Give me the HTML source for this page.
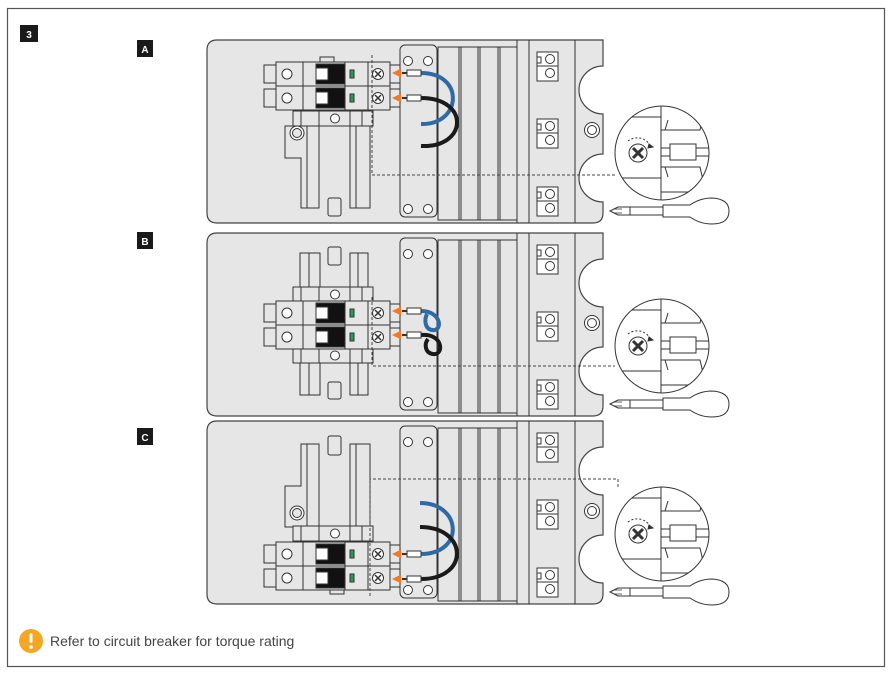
<!DOCTYPE html>
<html><head><meta charset="utf-8"><style>
html,body{margin:0;padding:0;background:#fff;}
body{width:890px;height:675px;overflow:hidden;font-family:"Liberation Sans",sans-serif;}
</style></head><body>
<svg width="890" height="675" viewBox="0 0 890 675" xmlns="http://www.w3.org/2000/svg" font-family="Liberation Sans, sans-serif">
<defs>
<clipPath id="mc"><circle cx="662" cy="113" r="47"/></clipPath>
<g id="common" stroke="#333" stroke-width="1" fill="none">
  <path d="M217,0 H603 V26 A24,24 0 0 0 603,74 V114 A24,24 0 0 0 603,162 V173 Q603,183 593,183 H217 Q207,183 207,173 V10 Q207,0 217,0 Z" fill="#e6e6e6" stroke="#444" stroke-width="1.2"/>
  <line x1="517" y1="0" x2="517" y2="183"/><line x1="529" y1="0" x2="529" y2="183"/><line x1="575" y1="0" x2="575" y2="183"/>
  <rect x="438" y="7" width="79" height="173"/>
  <line x1="459" y1="7" x2="459" y2="180"/><line x1="461" y1="7" x2="461" y2="180"/>
  <line x1="478" y1="7" x2="478" y2="180"/><line x1="480" y1="7" x2="480" y2="180"/>
  <line x1="498" y1="7" x2="498" y2="180"/><line x1="500" y1="7" x2="500" y2="180"/>
  <rect x="400" y="5" width="37" height="172" rx="5" fill="#e6e6e6"/>
  <circle cx="408" cy="21" r="4.5" fill="#fff"/><circle cx="428" cy="21" r="4.5" fill="#fff"/>
  <circle cx="408" cy="169" r="4.5" fill="#fff"/><circle cx="428" cy="169" r="4.5" fill="#fff"/>
  <g id="term"><rect x="537" y="12" width="21" height="29" fill="#fff"/><line x1="537" y1="26" x2="558" y2="26"/><path d="M537,17 h4 v6 h-4"/><circle cx="550" cy="19" r="4.5"/><circle cx="550" cy="33" r="4.5"/></g>
  <use href="#term" y="67"/><use href="#term" y="135"/>
  <circle cx="592" cy="90" r="7.5" fill="#fff"/><circle cx="592" cy="90" r="4.5"/>
  <circle cx="662" cy="113" r="47" fill="#fff"/>
  <g clip-path="url(#mc)">
    <line x1="610" y1="77" x2="661" y2="77"/><line x1="610" y1="138" x2="661" y2="138"/>
    <line x1="661" y1="60" x2="661" y2="170"/>
    <path d="M661,90 H700 L703,77 H715"/><path d="M661,127 H700 L703,140 H715"/>
    <path d="M665,90 L668,80 M665,127 L668,137"/>
    <rect x="670" y="104" width="26" height="16" fill="#fff"/>
    <line x1="661" y1="108" x2="670" y2="108"/><line x1="661" y1="116" x2="670" y2="116"/>
    <line x1="696" y1="108" x2="715" y2="108"/><line x1="696" y1="116" x2="715" y2="116"/>
    <line x1="661" y1="152" x2="720" y2="152"/>
  </g>
  <circle cx="638" cy="113" r="9" fill="#fff"/>
  <path d="M633,108 L643,118 M643,108 L633,118" stroke-width="3"/>
  <path d="M628,101 A15,15 0 0 1 651,107" stroke-dasharray="2,2"/>
  <path d="M649,104 l4,3 l-5,1 z" fill="#333"/>
  <path d="M610,171 l8,-4 h12 v8 h-12 z" fill="#fff"/>
  <path d="M614,169 h8 M614,173 h8" stroke-width="0.8"/>
  <rect x="630" y="167" width="33" height="8" fill="#fff"/>
  <path d="M663,165 H690 Q700,158 712,158 Q729,159 729,171 Q729,184 712,184 Q700,184 690,177 H663 Z" fill="#fff"/>
</g>
<g id="brk" stroke="#333" stroke-width="1" fill="#e6e6e6">
  <rect x="264" y="3" width="13" height="18"/><rect x="264" y="27" width="13" height="18"/>
  <rect x="389" y="3" width="11" height="18"/><rect x="389" y="27" width="11" height="18"/>
  <rect x="276" y="0" width="114" height="48"/>
  <line x1="276" y1="24" x2="390" y2="24"/>
  <line x1="303" y1="0" x2="303" y2="48"/><line x1="345" y1="0" x2="345" y2="48"/><line x1="368" y1="0" x2="368" y2="48"/>
  <circle cx="287" cy="12" r="5" fill="#fff"/><circle cx="287" cy="36" r="5" fill="#fff"/>
  <rect x="316" y="2" width="29" height="20" fill="#111"/><rect x="316" y="26" width="29" height="20" fill="#111"/>
  <rect x="316" y="6" width="12" height="12" fill="#fff"/><rect x="316" y="30" width="12" height="12" fill="#fff"/>
  <rect x="350" y="8" width="4" height="8" fill="#2a9a5a"/><rect x="350" y="32" width="4" height="8" fill="#2a9a5a"/>
  <circle cx="378" cy="12" r="5.5" fill="#fff"/><circle cx="378" cy="36" r="5.5" fill="#fff"/>
  <path d="M375,9 l6,6 M381,9 l-6,6 M375,33 l6,6 M381,33 l-6,6" stroke-width="1.5"/>
</g>
<g id="din" stroke="#333" stroke-width="1" fill="#e6e6e6">
  <rect x="293" y="0" width="80" height="15"/>
  <line x1="301" y1="0" x2="301" y2="15"/><line x1="319" y1="0" x2="319" y2="15"/><line x1="350" y1="0" x2="350" y2="15"/><line x1="362" y1="0" x2="362" y2="15"/>
  <circle cx="335" cy="7.5" r="4.5" fill="#fff"/>
</g>
<g id="fer" stroke="#333" stroke-width="1">
  <line x1="402" y1="0" x2="407" y2="0" stroke-width="2"/>
  <rect x="407" y="-3" width="14" height="6" fill="#fff"/>
  <path d="M392,0 L401,-4.5 L401,4.5 Z" fill="#f07a2a" stroke="none"/>
</g>
</defs>

<rect x="7.5" y="8.5" width="877" height="658" fill="#fff" stroke="#555" stroke-width="1.2"/>
<rect x="20" y="25" width="18" height="17" fill="#1a1a1a"/><text x="29" y="38" fill="#fff" font-size="10" font-weight="bold" text-anchor="middle">3</text>
<rect x="137" y="40" width="16" height="17" fill="#1a1a1a"/><text x="145" y="53" fill="#fff" font-size="10" font-weight="bold" text-anchor="middle">A</text>
<rect x="137" y="232" width="16" height="17" fill="#1a1a1a"/><text x="145" y="245" fill="#fff" font-size="10" font-weight="bold" text-anchor="middle">B</text>
<rect x="137" y="428" width="16" height="17" fill="#1a1a1a"/><text x="145" y="441" fill="#fff" font-size="10" font-weight="bold" text-anchor="middle">C</text>

<!-- Panel A -->
<g transform="translate(0,40)"><use href="#common"/></g>
<g stroke="#333" fill="#e6e6e6">
  <path d="M285,126 V158 H301 V208 H319 V126 Z M350,126 V208 H370 V126 Z"/>
  <line x1="307" y1="126" x2="307" y2="208"/><line x1="356" y1="126" x2="356" y2="208"/>
  <rect x="328" y="198" width="13" height="18" rx="2"/>
  <circle cx="297" cy="133" r="7" fill="#fff"/><circle cx="297" cy="133" r="4.5"/>
  <rect x="320" y="57" width="14" height="5"/>
</g>
<use href="#din" y="111"/>
<use href="#brk" y="62"/>
<path d="M372,55 V175 H615" stroke="#444" fill="none" stroke-dasharray="3,2"/>
<path d="M421,73 C465,73 462,125 421,124" stroke="#2e6aa6" stroke-width="4" fill="none"/>
<path d="M421,98 C470,98 468,148 421,146" stroke="#1a1a1a" stroke-width="4" fill="none"/>
<use href="#fer" y="73"/><use href="#fer" y="98"/>

<!-- Panel B -->
<g transform="translate(0,233)"><use href="#common"/></g>
<g stroke="#333" fill="#e6e6e6">
  <rect x="300" y="253" width="20" height="142"/><rect x="350" y="253" width="18" height="142"/>
  <line x1="309" y1="253" x2="309" y2="395"/><line x1="358" y1="253" x2="358" y2="395"/>
  <rect x="328" y="247" width="13" height="18" rx="2"/><rect x="328" y="382" width="13" height="17" rx="2"/>
</g>
<use href="#din" y="287"/><use href="#din" y="348"/>
<use href="#brk" y="301"/>
<path d="M372,297 V366 H615" stroke="#444" fill="none" stroke-dasharray="3,2"/>
<path d="M421,311 C442,311 443,332 432,330 C425,329 424,320 427,314" stroke="#2e6aa6" stroke-width="4" fill="none"/>
<path d="M421,335 C444,333 444,356 433,354 C425,353 424,344 428,339" stroke="#1a1a1a" stroke-width="4" fill="none"/>
<use href="#fer" y="311"/><use href="#fer" y="335"/>

<!-- Panel C -->
<g transform="translate(0,421)"><use href="#common"/></g>
<g stroke="#333" fill="#e6e6e6">
  <path d="M285,527 V486 H301 V444 H319 V527 Z M350,444 V527 H370 V444 Z"/>
  <line x1="307" y1="444" x2="307" y2="527"/><line x1="356" y1="444" x2="356" y2="527"/>
  <rect x="328" y="436" width="13" height="19" rx="2"/>
  <circle cx="297" cy="513" r="7" fill="#fff"/><circle cx="297" cy="513" r="4.5"/>
  <rect x="330" y="589" width="14" height="5"/>
</g>
<use href="#din" y="526"/>
<use href="#brk" y="542"/>
<path d="M370,596 V479 H618 V488" stroke="#444" fill="none" stroke-dasharray="3,2"/>
<path d="M421,554 C465,554 462,503 420,503" stroke="#2e6aa6" stroke-width="4" fill="none"/>
<path d="M421,579 C470,579 468,527 420,527" stroke="#1a1a1a" stroke-width="4" fill="none"/>
<use href="#fer" y="554"/><use href="#fer" y="579"/>

<!-- Footer -->
<circle cx="31" cy="641" r="12" fill="#f5a623"/>
<rect x="29.5" y="633" width="3" height="10" rx="1.5" fill="#fff"/><circle cx="31" cy="647" r="1.8" fill="#fff"/>
<text x="50" y="646" font-size="14" fill="#444">Refer to circuit breaker for torque rating</text>
</svg>
</body></html>
